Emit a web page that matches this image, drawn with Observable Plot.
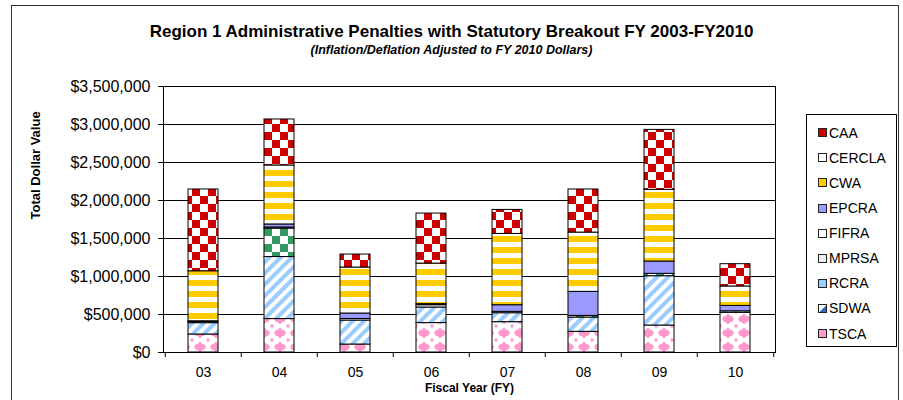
<!DOCTYPE html>
<html><head><meta charset="utf-8">
<script src="https://cdn.jsdelivr.net/npm/d3@7"></script>
<script src="https://cdn.jsdelivr.net/npm/@observablehq/plot@0.6"></script>
<style>
body{margin:0;background:#fff;font-family:"Liberation Sans",Arial,sans-serif;}
#wrap{position:relative;width:903px;height:400px;overflow:hidden;}
#border{position:absolute;left:11px;top:5px;width:886px;height:420px;border:1px solid #333;}
#title{position:absolute;left:0;width:903px;top:23px;text-align:center;font-weight:bold;font-size:17px;line-height:18px;}
#subtitle{position:absolute;left:0;width:903px;top:43px;text-align:center;font-weight:bold;font-style:italic;font-size:12.5px;line-height:14px;}
#chart{position:absolute;left:0;top:60px;}
#legend{position:absolute;left:806px;top:114px;width:89px;height:231px;border:1px solid #000;background:#fff;}
.item{position:absolute;left:11px;height:20px;display:flex;align-items:center;font-size:14px;white-space:nowrap;}
.sw{width:7px;height:7px;border:1px solid #222;margin-right:2px;box-sizing:content-box;}
</style></head>
<body>
<div id="wrap">
  <div id="border"></div>
  <div id="title">Region 1 Administrative Penalties with Statutory Breakout FY 2003-FY2010</div>
  <div id="subtitle">(Inflation/Deflation Adjusted to FY 2010 Dollars)</div>
  <div id="chart"></div>
  <div id="legend"></div>
</div>
<script>
// ---- data ----
const years = ["03","04","05","06","07","08","09","10"];
const seriesOrder = ["TSCA","SDWA","RCRA","MPRSA","FIFRA","EPCRA","CWA","CERCLA","CAA"]; // bottom -> top
const legendOrder = ["CAA","CERCLA","CWA","EPCRA","FIFRA","MPRSA","RCRA","SDWA","TSCA"];
const TSCA   = [237000, 440000, 105000, 387000, 399000, 272000, 355000, 522000];
const SDWA   = [0, 0, 0, 0, 0, 0, 0, 0];
const RCRA   = [149000, 816000, 316000, 205000, 118000, 188000, 649000, 20000];
const MPRSA  = [15000, 374000, 0, 0, 0, 22000, 31000, 0];
const FIFRA  = [10000, 15000, 20000, 30000, 18000, 0, 0, 0];
const EPCRA  = [0, 40000, 72000, 14000, 87000, 316000, 162000, 71000];
const CWA    = [658000, 776000, 605000, 534000, 938000, 780000, 943000, 256000];
const CERCLA = [0, 0, 0, 0, 0, 0, 0, 0];
const CAA    = [1076000, 605000, 171000, 658000, 316000, 567000, 789000, 293000];
const yTicks = [0, 500000, 1000000, 1500000, 2000000, 2500000, 3000000, 3500000];

const valuesBySeries = {TSCA, SDWA, RCRA, MPRSA, FIFRA, EPCRA, CWA, CERCLA, CAA};
const rows = seriesOrder.flatMap(s => years.map((yr, i) => ({year: yr, series: s, value: valuesBySeries[s][i]})))
  .filter(d => d.value > 0);

// ---- styles ----
const fills = {TSCA:"url(#p-tsca)", SDWA:"url(#p-sdwa)", RCRA:"url(#p-rcra)", MPRSA:"url(#p-mprsa)",
  FIFRA:"#ffffff", EPCRA:"#9999FF", CWA:"url(#p-cwa)", CERCLA:"#ffffff", CAA:"url(#p-caa)"};
const swatches = {CAA:"#CC0000", CERCLA:"#ffffff", CWA:"#FFCC00", EPCRA:"#9999FF", FIFRA:"#ffffff",
  MPRSA:"#eeeeee", RCRA:"#99CCFF", SDWA:"linear-gradient(135deg,#fff 50%,#3366cc 50%)", TSCA:"#FF99CC"};

const W = 903, H = 340, ML = 163, MR = 128, MT = 26, MB = 48;
const step = (W - ML - MR) / years.length;

const plot = Plot.plot({
  width: W, height: H, marginLeft: ML, marginRight: MR, marginTop: MT, marginBottom: MB,
  style: {fontFamily: '"Liberation Sans", Arial, sans-serif', color: "#000", background: "transparent"},
  x: {domain: years, paddingInner: 0.6, paddingOuter: 0.3, label: null},
  y: {domain: [0, 3500000], label: null},
  color: {type: "identity"},
  marks: [
    Plot.gridY(yTicks, {stroke: "#000", strokeOpacity: 1}),
    Plot.barY(rows, {x: "year", y: "value", z: "series", order: seriesOrder,
      fill: d => fills[d.series], stroke: "#000", strokeWidth: 1}),
    Plot.frame({stroke: "#000"}),
    Plot.axisY(yTicks, {tickFormat: d3.format("$,"), fontSize: 16, tickSize: 5, tickPadding: 8, label: null}),
    Plot.axisX({tickSize: 0, tickPadding: 15, fontSize: 14, label: null}),
    Plot.axisX({text: null, tickSize: 5, dx: -step / 2, label: null}),
    Plot.axisX([years[years.length - 1]], {text: null, tickSize: 5, dx: step / 2, label: null}),
    Plot.text(["Fiscal Year (FY)"], {frameAnchor: "bottom", dy: 39, fontWeight: "bold", fontSize: 12}),
    Plot.text(["Total Dollar Value"], {frameAnchor: "left", dx: -128, rotate: -90, fontWeight: "bold", fontSize: 13})
  ]
});

// ---- patterns ----
const defs = d3.select(plot).insert("defs", ":first-child");
function pat(id, w, h, tr) {
  const p = defs.append("pattern").attr("id", id).attr("patternUnits", "userSpaceOnUse")
    .attr("width", w).attr("height", h);
  if (tr) p.attr("patternTransform", tr);
  p.append("rect").attr("width", w).attr("height", h).attr("fill", "#fff");
  return p;
}
function checker(id, color, s) {
  const p = pat(id, 2 * s, 2 * s);
  p.append("rect").attr("width", s).attr("height", s).attr("fill", color);
  p.append("rect").attr("x", s).attr("y", s).attr("width", s).attr("height", s).attr("fill", color);
}
checker("p-caa", "#CC0000", 8);
checker("p-mprsa", "#339966", 8);
{ const p = pat("p-cwa", 11, 11); p.append("rect").attr("width", 11).attr("height", 6).attr("fill", "#FFCC00"); }
{ const p = pat("p-rcra", 8, 8, "rotate(45)"); p.append("rect").attr("width", 4).attr("height", 8).attr("fill", "#99CCFF"); }
{ const p = pat("p-sdwa", 6, 6, "rotate(45)"); p.append("rect").attr("width", 1).attr("height", 6).attr("fill", "#3366CC"); }
{ const p = pat("p-tsca", 16, 14);
  // stepped "plus-diamond" motifs
  const pink = "#FF99CC";
  p.append("polygon").attr("points", "8,1.5 10,3.5 12.5,4.5 14,7 12.5,9.5 10,10.5 8,12.5 6,10.5 3.5,9.5 2,7 3.5,4.5 6,3.5").attr("fill", pink);
  [[0,0],[16,0],[0,14],[16,14]].forEach(([cx, cy]) =>
    p.append("rect").attr("x", cx - 1.5).attr("y", cy - 1.5).attr("width", 3).attr("height", 3).attr("fill", pink));
}
document.getElementById("chart").appendChild(plot);

// ---- legend ----
const leg = document.getElementById("legend");
legendOrder.forEach((s, i) => {
  const it = document.createElement("div");
  it.className = "item";
  it.style.top = (7.7 + i * 25.1) + "px";
  const sw = document.createElement("div");
  sw.className = "sw";
  sw.style.background = swatches[s];
  it.appendChild(sw);
  it.appendChild(document.createTextNode(s));
  leg.appendChild(it);
});
</script>
</body></html>
